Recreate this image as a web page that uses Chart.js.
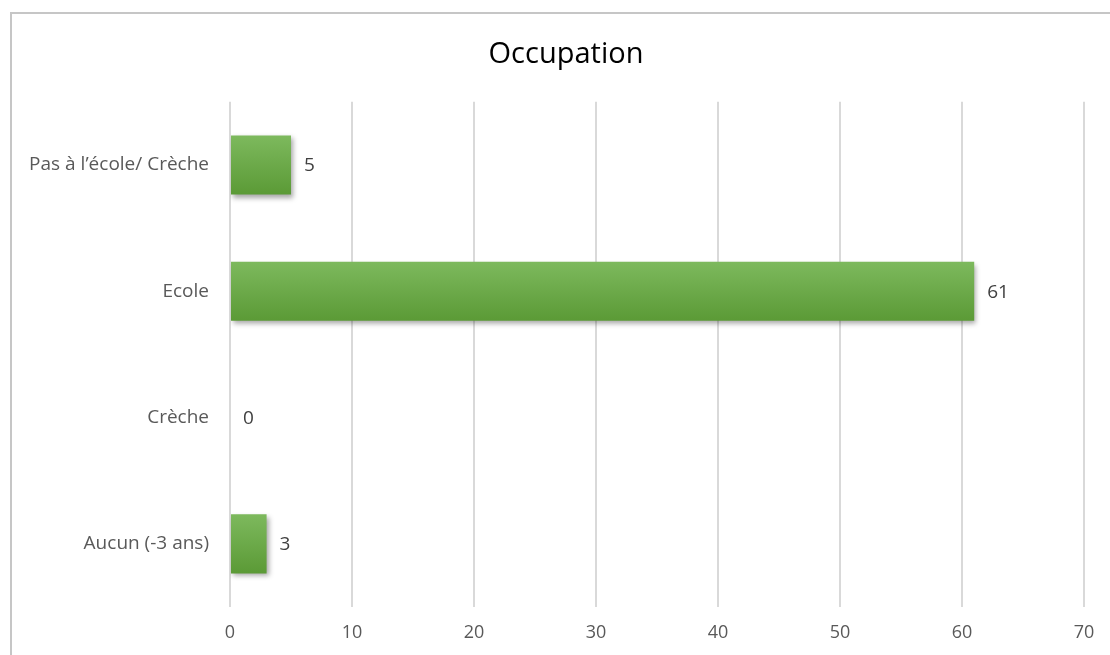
<!DOCTYPE html>
<html>
<head>
<meta charset="utf-8">
<script src="https://cdn.jsdelivr.net/npm/chart.js@4/dist/chart.umd.min.js"></script>
<style>
  html, body { margin: 0; padding: 0; background: #fff; }
  #frame { position: absolute; left: 10px; top: 12px; right: 0; bottom: 0;
           border-left: 2px solid #c6c6c6; border-top: 2px solid #c6c6c6; }
  #chart { position: absolute; left: 0; top: 0; }
</style>
</head>
<body>
<div id="frame"></div>
<canvas id="chart" width="1110" height="655"></canvas>
<script>
const categories = ["Pas à l\u2019école/ Crèche", "Ecole", "Crèche", "Aucun (-3 ans)"];
const counts = [5, 61, 0, 3];
const xTicks = [0, 10, 20, 30, 40, 50, 60, 70];

const FONT = "'Open Sans', sans-serif";
const BAR_H = 59;

// green bar with a vertical gradient, lighter on top
function barFill(ctx) {
  const chart = ctx.chart;
  const y = chart.scales.y;
  if (!y || ctx.dataIndex === undefined) return "#6aaa45";
  const mid = y.getPixelForValue(ctx.dataIndex);
  if (!isFinite(mid)) return "#6aaa45";
  const g = chart.ctx.createLinearGradient(0, mid - BAR_H / 2, 0, mid + BAR_H / 2);
  g.addColorStop(0, "#7db95d");
  g.addColorStop(1, "#5b9a36");
  return g;
}

const shadowPlugin = {
  id: "barShadow",
  beforeDatasetDraw(chart) {
    const c = chart.ctx;
    c.save();
    c.shadowColor = "rgba(0,0,0,0.35)";
    c.shadowBlur = 5;
    c.shadowOffsetX = 2;
    c.shadowOffsetY = 3;
  },
  afterDatasetDraw(chart) {
    chart.ctx.restore();
  }
};

// let the long category labels run past the left padding without being clipped
const widenYAxis = {
  id: "widenYAxis",
  afterLayout(chart) {
    chart.scales.y.left = 0;
  }
};

const valueLabels = {
  id: "valueLabels",
  afterDatasetsDraw(chart) {
    const c = chart.ctx;
    const meta = chart.getDatasetMeta(0);
    c.save();
    c.font = "19px " + FONT;
    c.fillStyle = "#404040";
    c.textAlign = "left";
    c.textBaseline = "middle";
    meta.data.forEach((bar, i) => {
      c.fillText(String(counts[i]), bar.x + 13, bar.y + 1);
    });
    c.restore();
  }
};

new Chart(document.getElementById("chart"), {
  type: "bar",
  data: {
    labels: categories,
    datasets: [{
      data: counts,
      backgroundColor: barFill,
      borderWidth: 0,
      categoryPercentage: 1,
      barPercentage: 0.468
    }]
  },
  options: {
    indexAxis: "y",
    responsive: false,
    animation: false,
    layout: { padding: { left: 48, right: 26, top: 0, bottom: 0 } },
    plugins: {
      legend: { display: false },
      tooltip: { enabled: false },
      title: {
        display: true,
        text: "Occupation",
        color: "#000",
        font: { family: FONT, size: 29, weight: "normal" },
        padding: { top: 37, bottom: 30 }
      }
    },
    scales: {
      x: {
        min: 0,
        max: 70,
        afterBuildTicks(scale) { scale.ticks = xTicks.map(v => ({ value: v })); },
        afterFit(scale) { scale.height = 48; },
        grid: { color: "#d9d9d9", lineWidth: 2, drawTicks: false },
        border: { display: false },
        ticks: { color: "#595959", padding: 15, font: { family: FONT, size: 18 } }
      },
      y: {
        afterFit(scale) { scale.width = 182; },
        grid: { display: false, drawTicks: false },
        border: { display: false },
        ticks: { color: "#595959", padding: 21, font: { family: FONT, size: 19 } }
      }
    }
  },
  plugins: [shadowPlugin, widenYAxis, valueLabels]
});
</script>
</body>
</html>
